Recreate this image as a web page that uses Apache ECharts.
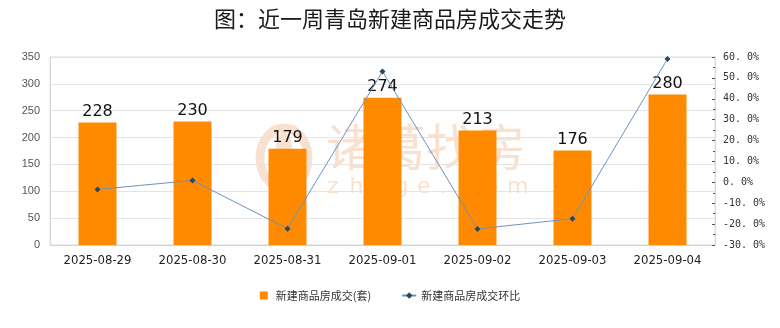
<!DOCTYPE html>
<html>
<head>
<meta charset="utf-8">
<script src="https://cdn.jsdelivr.net/npm/echarts@6/dist/echarts.min.js"></script>
<style>
html,body{margin:0;padding:0;background:#ffffff;}
#chart{width:780px;height:328px;}
</style>
</head>
<body>
<div id="chart"></div>
<script>
// Daily deals of new commercial housing in Qingdao, last week
const categories = ['2025-08-29','2025-08-30','2025-08-31','2025-09-01','2025-09-02','2025-09-03','2025-09-04'];
const dealCounts = [228, 230, 179, 274, 213, 176, 280];
const dayOverDay = [-3.4, 0.9, -22.2, 53.1, -22.3, -17.4, 59.1];
const leftTicks = { min: 0, max: 350, interval: 50 };
const rightTicks = { min: -30, max: 60, interval: 10 };

const barName = '新建商品房成交(套)';
const lineName = '新建商品房成交环比';

const chart = echarts.init(document.getElementById('chart'));
const cjk = '"Noto Sans CJK SC", "Noto Sans", sans-serif';
const wmColor = 'rgba(243,200,168,0.55)';

// watermark: logo, brand name and spaced-out domain letters
const wmDomain = 'zhuge.com'.split('').map((ch, i) => ({
  type: 'text', left: 327 + i * 22.5, top: 176,
  style: { text: ch, fontFamily: '"DejaVu Sans", sans-serif', fontSize: 22, fill: wmColor }
}));

chart.setOption({
  backgroundColor: '#ffffff',
  animation: false,
  title: {
    text: '图：近一周青岛新建商品房成交走势',
    left: 'center',
    top: 3,
    textStyle: { fontFamily: cjk, fontSize: 22, fontWeight: 'normal', color: '#1a1a1a' }
  },
  graphic: [
    {
      type: 'group', z: -1, silent: true,
      children: [
        { type: 'ellipse', shape: { cx: 284, cy: 158, rx: 24, ry: 30 },
          style: { fill: 'none', stroke: wmColor, lineWidth: 9 } },
        { type: 'ellipse', shape: { cx: 284, cy: 150, rx: 8, ry: 18 },
          style: { fill: wmColor } },
        { type: 'text', left: 326, top: 122,
          style: { text: '诸葛找房', fontFamily: cjk, fontSize: 50, fontWeight: 'normal', fill: wmColor } }
      ].concat(wmDomain)
    }
  ],
  legend: {
    bottom: 22,
    left: 'center',
    itemGap: 30,
    itemWidth: 14,
    itemHeight: 8,
    textStyle: { fontFamily: cjk, fontSize: 11, color: '#333' },
    data: [
      { name: barName, icon: 'path://M3,0 L11,0 L11,8 L3,8 Z', itemStyle: { color: '#FF8A00' } },
      { name: lineName }
    ]
  },
  grid: { left: 50, right: 65, top: 57, bottom: 83, show: true, borderColor: '#dcdcdc', borderWidth: 1 },
  xAxis: {
    type: 'category',
    data: categories,
    axisLine: { show: true, lineStyle: { color: '#cfcfcf' } },
    axisTick: { show: false },
    axisLabel: { fontFamily: '"Liberation Sans Narrow", "DejaVu Sans Condensed", "Liberation Sans", sans-serif', fontSize: 13, color: '#222', margin: 9 }
  },
  yAxis: [
    {
      type: 'value',
      min: leftTicks.min, max: leftTicks.max, interval: leftTicks.interval,
      axisLine: { show: true, lineStyle: { color: '#d8d8d8' } },
      axisTick: { show: false },
      axisLabel: { fontFamily: '"Liberation Sans", sans-serif', fontSize: 11, color: '#555', margin: 10 },
      splitLine: { lineStyle: { color: '#e4e4e4' } }
    },
    {
      type: 'value',
      min: rightTicks.min, max: rightTicks.max, interval: rightTicks.interval,
      axisLine: { show: true, lineStyle: { color: '#d8d8d8' } },
      axisTick: { show: true, inside: true, length: 3, lineStyle: { color: '#555' } },
      minorTick: { show: true, splitNumber: 2, length: 2, lineStyle: { color: '#555' } },
      axisLabel: {
        fontFamily: '"DejaVu Sans Mono", monospace', fontSize: 10, color: '#333', margin: 8,
        formatter: v => v.toFixed(1).replace('.', '. ') + '%'
      },
      splitLine: { show: false }
    }
  ],
  series: [
    {
      name: barName,
      type: 'bar',
      data: dealCounts,
      yAxisIndex: 0,
      barWidth: 38,
      itemStyle: { color: '#FF8A00' },
      label: { show: true, position: 'top', distance: 3, fontFamily: '"DejaVu Sans", sans-serif', fontSize: 16, color: '#111' }
    },
    {
      name: lineName,
      type: 'line',
      data: dayOverDay,
      yAxisIndex: 1,
      symbol: 'diamond',
      symbolSize: 6,
      itemStyle: { color: '#2d4660' },
      lineStyle: { color: '#6b93bd', width: 1 },
      z: 5
    }
  ]
});
</script>
</body>
</html>
